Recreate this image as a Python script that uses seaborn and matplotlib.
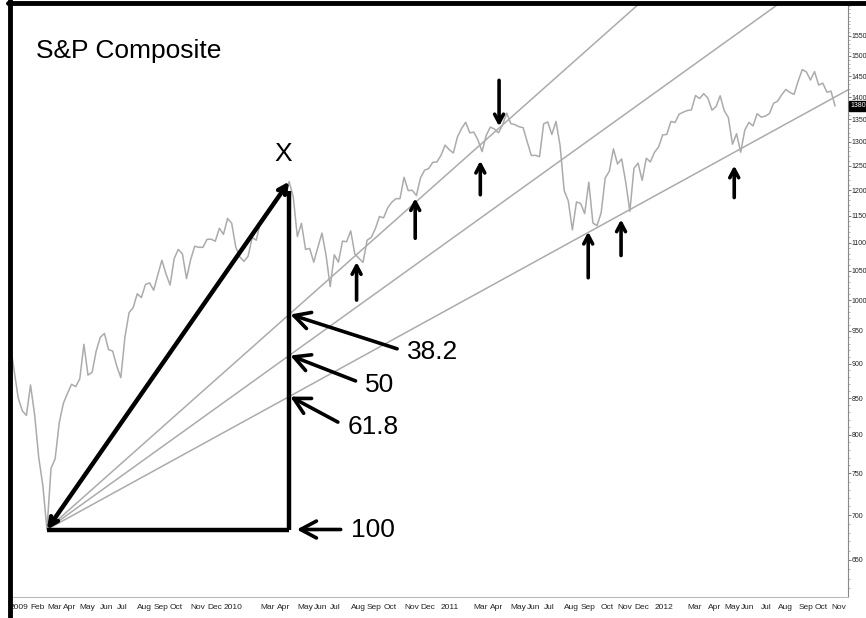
import matplotlib
matplotlib.use("Agg")
import matplotlib.pyplot as plt
import matplotlib.dates as mdates
import matplotlib.ticker as mticker
from matplotlib import font_manager
from matplotlib.lines import Line2D
import numpy as np
import pandas as pd
import seaborn as sns

# weekly closes of the S&P Composite (Fridays)
closes_2009 = [931.8, 890.4, 850.1, 832.0, 825.9, 868.6, 826.8, 770.1, 735.1, 683.4,
               756.6, 768.5, 815.9, 842.5, 856.6, 869.6, 866.2, 877.5, 929.2, 882.9,
               887.0, 919.1, 940.1, 946.2, 921.2, 918.9, 896.4, 879.1, 940.4, 979.3,
               987.5, 1010.5, 1004.1, 1026.1, 1028.9, 1016.4, 1042.7, 1068.3, 1044.4, 1025.2,
               1071.5, 1087.7, 1079.6, 1036.2, 1069.3, 1093.5, 1091.4, 1091.5, 1106.0, 1106.4,
               1102.5, 1126.5, 1115.1]
closes_2010 = [1145.0, 1136.0, 1091.8, 1073.9, 1066.2, 1075.5, 1109.2, 1104.5, 1138.7, 1150.0,
               1159.9, 1166.6, 1178.1, 1194.4, 1192.1, 1217.3, 1186.7, 1110.9, 1135.7, 1087.7,
               1089.4, 1064.9, 1091.6, 1117.5, 1076.8, 1022.6, 1078.0, 1064.9, 1102.7, 1101.6,
               1121.6, 1079.3, 1071.7, 1064.6, 1104.5, 1109.6, 1125.6, 1148.7, 1146.2, 1165.2,
               1176.2, 1183.1, 1183.3, 1225.9, 1199.2, 1199.7, 1189.4, 1224.7, 1240.4, 1243.9,
               1256.8, 1257.6]
closes_2011 = [1271.5, 1293.2, 1283.4, 1276.3, 1310.9, 1329.2, 1343.0, 1319.9, 1321.2, 1304.3,
               1279.2, 1313.8, 1332.4, 1328.2, 1319.7, 1337.4, 1363.6, 1340.2, 1337.8, 1333.3,
               1331.1, 1300.2, 1271.0, 1271.5, 1268.5, 1339.7, 1343.8, 1316.1, 1345.0, 1292.3,
               1199.4, 1178.8, 1123.5, 1176.8, 1174.0, 1154.2, 1216.0, 1136.4, 1131.4, 1155.5,
               1224.6, 1238.3, 1285.1, 1253.2, 1263.9, 1215.7, 1158.7, 1244.3, 1255.2, 1219.7,
               1265.3, 1257.6]
closes_2012 = [1277.8, 1289.1, 1315.4, 1316.3, 1344.9, 1342.6, 1361.2, 1365.7, 1369.6, 1370.9,
               1404.2, 1397.1, 1408.5, 1398.1, 1370.3, 1378.5, 1403.4, 1369.1, 1353.4, 1295.2,
               1317.8, 1278.0, 1325.7, 1342.8, 1335.0, 1362.2, 1354.7, 1356.8, 1362.7, 1386.0,
               1391.0, 1405.9, 1418.2, 1411.1, 1406.6, 1437.9, 1465.8, 1460.2, 1440.7, 1460.9,
               1428.6, 1433.2, 1411.9, 1414.2, 1379.9]

closes = closes_2009 + closes_2010 + closes_2011 + closes_2012
dates = pd.date_range("2009-01-02", periods=len(closes), freq="W-FRI")

# fan construction: swing low -> swing high "X"
pivot_low_date = pd.Timestamp("2009-03-06")
pivot_high_date = pd.Timestamp("2010-04-23")
fan_levels = ["38.2", "50", "61.8"]
fan_heights = [0.618, 0.5, 0.382]

# confirmation arrows (date, price at tip, length in px)
up_arrow_dates = ["2010-08-16", "2010-11-24", "2011-03-15", "2011-09-15", "2011-11-10", "2012-05-21"]
up_arrow_prices = [1065, 1184, 1260, 1120, 1143, 1250]
up_arrow_len = [38, 40, 34, 46, 36, 32]
down_arrow_date = "2011-04-16"
down_arrow_price = 1334

y_ticks = list(range(650, 1600, 50))

sns.set_style("white")
plt.rcParams["font.family"] = ["Liberation Sans", "DejaVu Sans"]
plt.rcParams["text.color"] = "black"

installed = {f.name for f in font_manager.fontManager.ttflist}
narrow = "Liberation Sans Narrow" if "Liberation Sans Narrow" in installed else "Liberation Sans"
tick_size = 6.8 if narrow == "Liberation Sans Narrow" else 6.0
ytick_size = 5.6 if narrow == "Liberation Sans Narrow" else 5.0

fig = plt.figure(figsize=(8.66, 6.18), dpi=100)
ax = fig.add_axes([10 / 866, 21 / 618, 838 / 866, 594 / 618])

df = pd.DataFrame({"date": dates, "close": closes})
sns.lineplot(data=df, x="date", y="close", ax=ax, color="#ababab", linewidth=1.1)

ax.set_yscale("log")

series = df.set_index("date")["close"]
low_price = series[pivot_low_date]
high_price = series[pivot_high_date]

# fan lines, straight on screen (log space)
t0 = mdates.date2num(pivot_low_date)
t1 = mdates.date2num(pivot_high_date)
far_date = pd.Timestamp("2013-06-01")
tf = mdates.date2num(far_date)
level_prices = []
for h in fan_heights:
    lv = np.log(low_price) + h * (np.log(high_price) - np.log(low_price))
    level_prices.append(np.exp(lv))
    slope = (lv - np.log(low_price)) / (t1 - t0)
    ax.plot([pivot_low_date, far_date], [low_price, np.exp(np.log(low_price) + slope * (tf - t0))],
            color="#ababab", linewidth=1.1)

head = "->,head_length=0.6,head_width=0.32"

# triangle
ax.plot([pivot_low_date, pivot_high_date], [low_price, low_price], color="black", lw=3.2,
        solid_capstyle="butt")
ax.plot([pivot_high_date, pivot_high_date], [low_price, high_price * 0.985], color="black", lw=3.2,
        solid_capstyle="butt")
ax.annotate("", xy=(pivot_low_date, low_price), xytext=(pivot_high_date, high_price),
            arrowprops=dict(arrowstyle="<->,head_length=0.6,head_width=0.3", lw=3.2,
                            color="black", shrinkA=0, shrinkB=0))
ax.annotate("X", xy=(pivot_high_date, high_price), xytext=(-4, 20), textcoords="offset points",
            ha="center", va="center", fontsize=19)

# retracement labels
text_offsets = [(84, -27), (54, -21), (41, -22)]
tip_date = pivot_high_date + pd.Timedelta(days=2)
for lab, price, off in zip(fan_levels, level_prices, text_offsets):
    ax.annotate(lab, xy=(tip_date, price), xytext=off, textcoords="offset points",
                ha="left", va="center", fontsize=19,
                arrowprops=dict(arrowstyle=head, lw=2.6, color="black",
                                shrinkA=5, shrinkB=0, relpos=(0, 0.5)))
ax.annotate("100", xy=(pivot_high_date + pd.Timedelta(days=13), low_price), xytext=(39, 0),
            textcoords="offset points", ha="left", va="center", fontsize=19,
            arrowprops=dict(arrowstyle=head, lw=2.6, color="black",
                            shrinkA=5, shrinkB=0, relpos=(0, 0.5)))

for d, p, ln in zip(up_arrow_dates, up_arrow_prices, up_arrow_len):
    ax.annotate("", xy=(pd.Timestamp(d), p), xytext=(0, -ln * 0.72), textcoords="offset points",
                arrowprops=dict(arrowstyle=head, lw=2.6, color="black", shrinkA=0, shrinkB=0))
ax.annotate("", xy=(pd.Timestamp(down_arrow_date), down_arrow_price), xytext=(0, 46 * 0.72),
            textcoords="offset points",
            arrowprops=dict(arrowstyle=head, lw=2.6, color="black", shrinkA=0, shrinkB=0))

ax.text(0.031, 0.919, "S&P Composite", transform=ax.transAxes, fontsize=19, va="center",
        color="black")

# axes limits and ticks
ax.set_xlim(pd.Timestamp("2009-01-02"), pd.Timestamp("2012-12-01"))
ax.set_ylim(611, 1637)
ax.set_xlabel("")
ax.set_ylabel("")

# one label per month at its first weekly bar; the year stands in for Jan, Feb is dropped after 2009
first_bars = pd.Series(dates, index=dates).groupby(dates.to_period("M")).first()
tick_pos, tick_lab = [], []
for per, d in first_bars.items():
    if per.month == 2 and per.year > 2009:
        continue
    tick_pos.append(d)
    tick_lab.append(str(per.year) if per.month == 1 else d.strftime("%b"))
ax.set_xticks(tick_pos)
ax.set_xticklabels(tick_lab, ha="left", fontsize=tick_size, color="#222222", family=narrow)
ax.xaxis.set_minor_locator(mdates.WeekdayLocator(byweekday=mdates.FR))

ax.yaxis.set_major_locator(mticker.FixedLocator(y_ticks))
ax.yaxis.set_major_formatter(mticker.FixedFormatter([str(v) for v in y_ticks]))
ax.yaxis.set_minor_locator(mticker.FixedLocator(range(620, 1640, 10)))
ax.yaxis.set_minor_formatter(mticker.NullFormatter())
ax.yaxis.tick_right()
for t in ax.get_yticklabels():
    t.set_fontsize(ytick_size)
    t.set_color("#222222")
    t.set_family(narrow)

ax.tick_params(axis="x", which="major", length=3, width=0.7, color="#777777", pad=2)
ax.tick_params(axis="y", which="major", length=2, width=0.7, color="#777777", pad=0.8)
ax.tick_params(axis="both", which="minor", length=1.5, width=0.5, color="#999999")

ax.spines["left"].set_visible(False)
ax.spines["top"].set_visible(False)
ax.spines["right"].set_color("#888888")
ax.spines["bottom"].set_color("#bbbbbb")

# last value marker on the price scale
ax.text(1.003, closes[-1], f"{closes[-1]:.0f}", transform=ax.get_yaxis_transform(),
        fontsize=5, color="white", va="center", ha="left", clip_on=False, family=narrow,
        bbox=dict(boxstyle="square,pad=0.25", fc="black", ec="black"))

# heavy frame on left and top
fig.add_artist(Line2D([10 / 866, 10 / 866], [0, 1], color="black", lw=3.5, transform=fig.transFigure))
fig.add_artist(Line2D([8 / 866, 1], [1 - 2.5 / 618, 1 - 2.5 / 618], color="black", lw=3.5,
                      transform=fig.transFigure))

fig.savefig("out.png", dpi=100)
